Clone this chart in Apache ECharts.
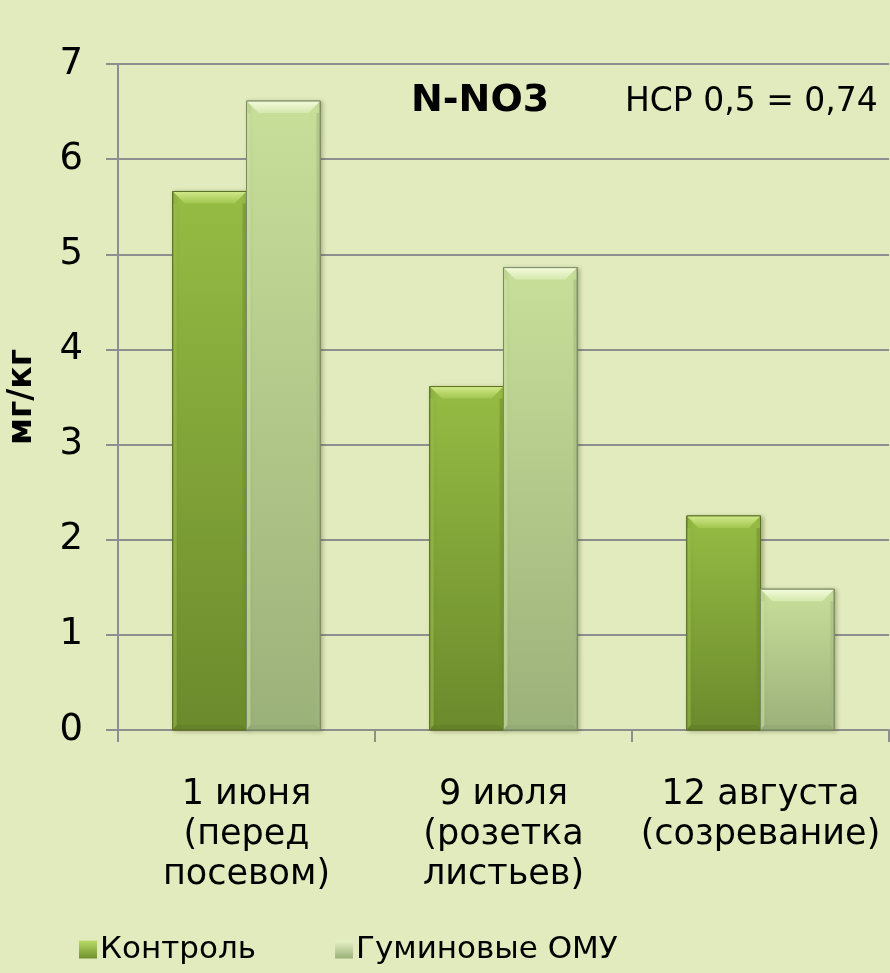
<!DOCTYPE html>
<html>
<head>
<meta charset="utf-8">
<script src="https://cdn.jsdelivr.net/npm/echarts@6/dist/echarts.min.js"></script>
<style>
  html, body { margin: 0; padding: 0; background: #e2ebbd; }
  #chart { width: 890px; height: 973px; }
</style>
</head>
<body>
<div id="chart"></div>
<script>
// Nitrate nitrogen (N-NO3) in soil, mg/kg, by sampling date
const categories = ['1 июня\n(перед\nпосевом)', '9 июля\n(розетка\nлистьев)', '12 августа\n(созревание)'];
const seriesNames = ['Контроль', 'Гуминовые ОМУ'];
const controlValues = [5.66, 3.61, 2.25];
const humicValues = [6.61, 4.86, 1.48];
const yTicks = [0, 1, 2, 3, 4, 5, 6, 7];

const FONT = '"DejaVu Sans", sans-serif';

// Colour sets for the bevelled bars: face gradient, bevel tones, outline
const palettes = [
  { faceTop: '#96bc44', faceBottom: '#6b8a2c', bevelTop: ['#d0e98a', '#a2c650'], bevelLeft: '#9cc04c',
    bevelRight: '#6f8f2e', bevelBottom: '#62802a', stroke: '#5a7322', legend: ['#b9dc66', '#6f8f2e'] },
  { faceTop: '#c8df9a', faceBottom: '#9bb17a', bevelTop: ['#f4fbdc', '#d5e9ad'], bevelLeft: '#d0e4a6',
    bevelRight: '#a3b883', bevelBottom: '#93a873', stroke: '#7a8a62', legend: ['#e6f3c6', '#9bb17a'] }
];

const BAR_FRACTION = 0.287; // share of a category band taken by each bar

function bevelBar(seriesIndex) {
  const pal = palettes[seriesIndex];
  return function (params, api) {
    const cat = api.value(0);
    const val = api.value(1);
    const base = api.coord([cat, 0]);
    const top = api.coord([cat, val]);
    const band = api.size([1, 0])[0];
    const w = band * BAR_FRACTION;
    const x0 = base[0] - w + seriesIndex * w;
    const x1 = x0 + w;
    const y0 = top[1];
    const y1 = base[1];
    const h = y1 - y0;
    const bt = Math.min(12, h / 3);  // top bevel depth
    const bs = 4;                     // side bevel depth
    const bb = Math.min(5, h / 4);    // bottom bevel depth
    const grad = (c1, c2) => new echarts.graphic.LinearGradient(0, 0, 0, 1, [
      { offset: 0, color: c1 }, { offset: 1, color: c2 }
    ]);
    return {
      type: 'group',
      children: [
        { type: 'rect', shape: { x: x0, y: y0, width: w, height: h },
          style: { fill: grad(pal.faceTop, pal.faceBottom), stroke: pal.stroke, lineWidth: 1,
                   shadowBlur: 4, shadowOffsetX: 2, shadowOffsetY: 1, shadowColor: 'rgba(60,70,30,0.35)' } },
        { type: 'polygon', shape: { points: [[x0, y0 + bt], [x0 + bs, y0 + bt], [x0 + bs, y1 - bb], [x0, y1]] },
          style: { fill: pal.bevelLeft, opacity: 0.55 } },
        { type: 'polygon', shape: { points: [[x1, y0 + bt], [x1 - bs, y0 + bt], [x1 - bs, y1 - bb], [x1, y1]] },
          style: { fill: pal.bevelRight, opacity: 0.55 } },
        { type: 'polygon', shape: { points: [[x0, y1], [x0 + bs, y1 - bb], [x1 - bs, y1 - bb], [x1, y1]] },
          style: { fill: pal.bevelBottom, opacity: 0.7 } },
        { type: 'polygon', shape: { points: [[x0, y0], [x1, y0], [x1 - bt, y0 + bt], [x0 + bt, y0 + bt]] },
          style: { fill: grad(pal.bevelTop[0], pal.bevelTop[1]) } },
        { type: 'rect', shape: { x: x0, y: y0, width: w, height: h },
          style: { fill: 'none', stroke: pal.stroke, lineWidth: 1 } }
      ]
    };
  };
}

const legendGrad = pal => new echarts.graphic.LinearGradient(0, 0, 0, 1, [
  { offset: 0, color: pal.legend[0] }, { offset: 1, color: pal.legend[1] }
]);

const chart = echarts.init(document.getElementById('chart'), null, { renderer: 'canvas' });

chart.setOption({
  backgroundColor: '#e2ebbd',
  animation: false,
  textStyle: { fontFamily: FONT, color: '#000' },
  title: [
    { text: 'N-NO3', left: 406, top: 77,
      textStyle: { fontFamily: FONT, fontWeight: 'bold', fontSize: 38, color: '#000' } },
    { text: 'НСР 0,5 = 0,74', left: 620, top: 81,
      textStyle: { fontFamily: FONT, fontWeight: 'normal', fontSize: 33, color: '#000' } }
  ],
  legend: {
    left: 74, top: 929, itemWidth: 18, itemHeight: 18, itemGap: 79,
    icon: 'rect',
    textStyle: { fontFamily: FONT, fontSize: 31, color: '#000', padding: [0, 0, 0, -2] },
    data: seriesNames
  },
  grid: { left: 118, right: 1, top: 64, bottom: 243, containLabel: false, outerBoundsMode: 'none' },
  xAxis: {
    type: 'category',
    data: categories,
    boundaryGap: true,
    axisLine: { lineStyle: { color: '#8e8e8e', width: 2 } },
    axisTick: { show: true, length: 12, alignWithLabel: false, lineStyle: { color: '#8e8e8e', width: 2 } },
    axisLabel: { margin: 45, fontFamily: FONT, fontSize: 35, lineHeight: 40, color: '#000', interval: 0 }
  },
  yAxis: {
    type: 'value',
    min: yTicks[0], max: yTicks[yTicks.length - 1], interval: 1,
    name: 'мг/кг',
    nameLocation: 'middle',
    nameGap: 79,
    nameRotate: 90,
    nameTextStyle: { fontFamily: FONT, fontWeight: 'bold', fontSize: 33, color: '#000' },
    axisLine: { show: true, lineStyle: { color: '#8e8e8e', width: 2 } },
    axisTick: { show: true, length: 12, lineStyle: { color: '#8e8e8e', width: 2 } },
    axisLabel: { margin: 35, fontFamily: FONT, fontSize: 37, color: '#000',
                 formatter: v => yTicks.includes(v) ? String(v) : '' },
    splitLine: { show: true, lineStyle: { color: '#8e8e8e', width: 2 } }
  },
  series: [
    { name: seriesNames[0], type: 'custom', renderItem: bevelBar(0),
      itemStyle: { color: legendGrad(palettes[0]) },
      encode: { x: 0, y: 1 },
      data: controlValues.map((v, i) => [i, v]) },
    { name: seriesNames[1], type: 'custom', renderItem: bevelBar(1),
      itemStyle: { color: legendGrad(palettes[1]) },
      encode: { x: 0, y: 1 },
      data: humicValues.map((v, i) => [i, v]) }
  ]
});
</script>
</body>
</html>
